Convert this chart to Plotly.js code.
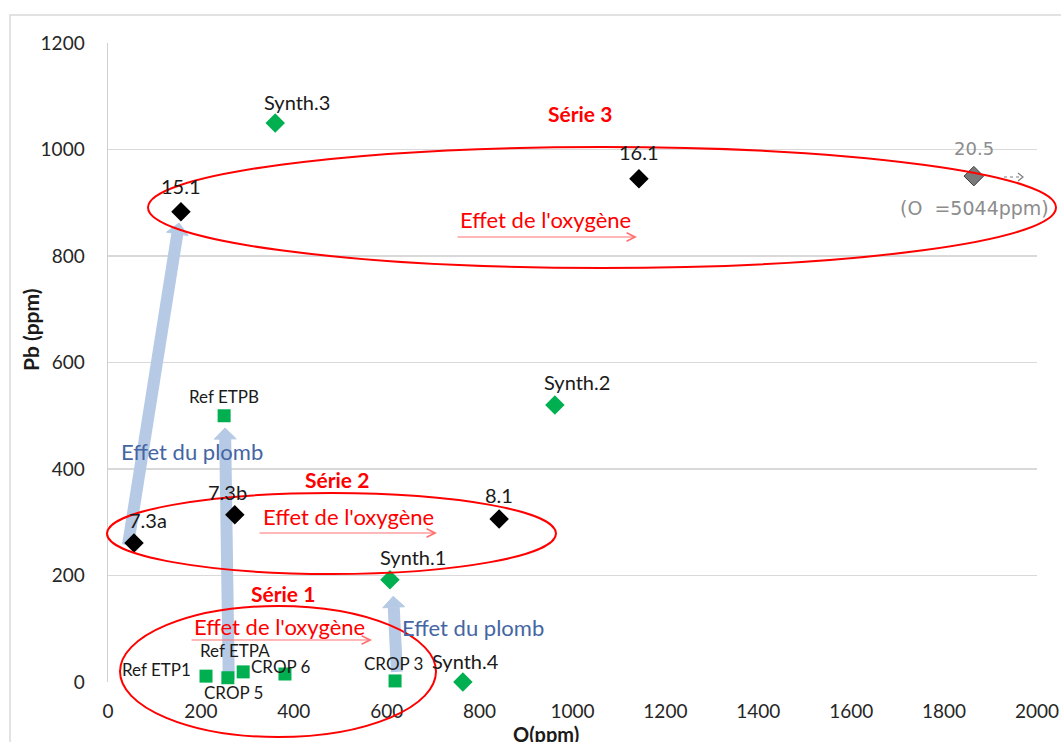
<!DOCTYPE html>
<html>
<head>
<meta charset="utf-8">
<script src="https://cdn.plot.ly/plotly-3.0.1.min.js"></script>
<style>html,body{margin:0;padding:0;background:#fff;}#chart{width:1061px;height:742px;}</style>
</head>
<body>
<div id="chart"></div>
<script>
// ---- data ----
const blackNames = ['7.3a', '7.3b', '8.1', '15.1', '16.1'];
const blackO = [56, 273, 842, 157, 1143];
const blackPb = [261, 314, 306, 883, 945];

const greyNames = ['20.5'];
const greyO = [1864];
const greyPb = [950];

const synthNames = ['Synth.1', 'Synth.2', 'Synth.3', 'Synth.4'];
const synthO = [607, 962, 360, 764];
const synthPb = [192, 520, 1050, 0];

const refNames = ['Ref ETPB', 'Ref ETP1', 'CROP 5', 'Ref ETPA', 'CROP 6', 'CROP 3'];
const refO = [250, 211, 258, 291, 381, 618];
const refPb = [500, 11, 8, 19, 15, 2];

// "Effet du plomb" arrows (tail -> head) in data units
const leadFromO = [43, 260, 622];
const leadFromPb = [257, 4, 19];
const leadToO = [153, 252, 614];
const leadToPb = [862, 477, 161];

const xTicks = [0, 200, 400, 600, 800, 1000, 1200, 1400, 1600, 1800, 2000];
const yTicks = [0, 200, 400, 600, 800, 1000, 1200];

// ---- label offsets (pixels) ----
const blackOff = [[14, -23], [-7, -23], [0, -24], [0, -26], [0, -27]];
const greyOff = [[0, -28]];
const synthOff = [[23, -23], [22, -23], [22, -21], [3, -21]];
const refOff = [[0, -19], [-50, -7], [6, 15], [-8, -21], [-4, -8], [-2, -17]];

// ---- geometry helpers (plot area in pixels) ----
const L = 108, R = 1037, T = 43, B = 682;
const px = v => (v - L) / (R - L);
const py = v => (B - v) / (B - T);
const kx = (R - L) / 2000, ky = (B - T) / 1200;

const FONT = 'Lato, "Open Sans", sans-serif';
const GREEN = '#00B050';
const RED = '#FF0000';
const BLUE_TXT = '#4466A3';
const ARROW_BLUE = '#B6CAE5';

const traces = [
  {x: refO, y: refPb, type: 'scatter', mode: 'markers', cliponaxis: false,
   marker: {symbol: 'square', size: 13, color: GREEN}, hoverinfo: 'skip'},
  {x: synthO, y: synthPb, type: 'scatter', mode: 'markers', cliponaxis: false,
   marker: {symbol: 'diamond', size: 15, color: GREEN}, hoverinfo: 'skip'},
  {x: blackO, y: blackPb, type: 'scatter', mode: 'markers', cliponaxis: false,
   marker: {symbol: 'diamond', size: 15, color: '#000000'}, hoverinfo: 'skip'},
  {x: greyO, y: greyPb, type: 'scatter', mode: 'markers', cliponaxis: false,
   marker: {symbol: 'diamond', size: 15, color: '#7A7A7A', line: {color: '#3A3A3A', width: 1}}, hoverinfo: 'skip'}
];

const annotations = [];
function addLabels(names, xs, ys, offs, size, color, family) {
  names.forEach((n, i) => {
    annotations.push({x: xs[i], y: ys[i], xref: 'x', yref: 'y', text: n, showarrow: false,
      xshift: offs[i][0], yshift: -offs[i][1], font: {family: family || FONT, size: size, color: color}});
  });
}
addLabels(blackNames, blackO, blackPb, blackOff, 20, '#1A1A1A');
addLabels(greyNames, greyO, greyPb, greyOff, 18, '#8C8C8C', '"DejaVu Sans", sans-serif');
addLabels(synthNames, synthO, synthPb, synthOff, 20, '#1A1A1A');
addLabels(refNames, refO, refPb, refOff, 17, '#1A1A1A');

// text annotations in pixel-derived paper positions
function txt(t, x, y, size, color, bold, extra) {
  annotations.push(Object.assign({x: px(x), y: py(y), xref: 'paper', yref: 'paper', text: bold ? '<b>' + t + '</b>' : t,
    showarrow: false, xanchor: 'center', yanchor: 'middle', font: {family: FONT, size: size, color: color}}, extra || {}));
}
txt('Série 3', 580, 113, 21, RED, true);
txt('Série 2', 337, 479, 21, RED, true);
txt('Série 1', 283, 593, 21, RED, true);
txt("Effet de l'oxygène", 545, 219, 22, RED, false);
txt("Effet de l'oxygène", 348, 516, 22, RED, false);
txt("Effet de l'oxygène", 279, 626, 22, RED, false);
txt('Effet du plomb', 192, 451, 22, BLUE_TXT, false);
txt('Effet du plomb', 473, 627, 22, BLUE_TXT, false);
txt('(O  =5044ppm)', 974, 208, 19, '#8C8C8C', false, {font: {family: '"DejaVu Sans", sans-serif', size: 19, color: '#8C8C8C'}});
txt('Pb (ppm)', 30, 330, 21, '#1A1A1A', true, {textangle: -90});
txt('O(ppm)', 546, 734, 20, '#1A1A1A', true);

// oxygen arrows (thin red)
[[637, 456, 237], [437, 258, 533], [372, 190, 640]].forEach(a => {
  annotations.push({x: px(a[0]), y: py(a[2]), xref: 'paper', yref: 'paper', ax: a[1] - a[0], ay: 0,
    text: '', showarrow: true, arrowhead: 5, arrowsize: 1.4, arrowwidth: 1.2, arrowcolor: '#FF7070'});
});

const shapes = [
  // outer frame
  {type: 'rect', xref: 'paper', yref: 'paper', x0: px(10), x1: px(1080), y0: py(760), y1: py(15),
   line: {color: '#D9D9D9', width: 1.5}},
  // ellipses
  {type: 'circle', xref: 'paper', yref: 'paper', x0: px(148), x1: px(1056), y0: py(268), y1: py(147),
   line: {color: RED, width: 2}},
  {type: 'circle', xref: 'paper', yref: 'paper', x0: px(107), x1: px(556), y0: py(574), y1: py(493),
   line: {color: RED, width: 2}},
  {type: 'circle', xref: 'paper', yref: 'paper', x0: px(120), x1: px(436), y0: py(737), y1: py(606),
   line: {color: RED, width: 2}},
  // dotted arrow next to 20.5
  {type: 'line', xref: 'paper', yref: 'paper', x0: px(1004), x1: px(1022), y0: py(177), y1: py(177),
   line: {color: '#7F7F7F', width: 1.2, dash: 'dot'}},
  {type: 'path', xref: 'paper', yref: 'paper',
   path: 'M' + px(1018) + ',' + py(173) + ' L' + px(1023) + ',' + py(177) + ' L' + px(1018) + ',' + py(181),
   line: {color: '#7F7F7F', width: 1.2}}
];

// lead arrows as shapes between gridlines and traces
const HEAD_LEN = 11, HEAD_HALF = 11, SHAFT = 12;
leadFromO.forEach((_, i) => {
  const x0 = leadFromO[i], y0 = leadFromPb[i], x1 = leadToO[i], y1 = leadToPb[i];
  const dxp = (x1 - x0) * kx, dyp = (y1 - y0) * ky;
  const len = Math.hypot(dxp, dyp);
  const ux = dxp / len, uy = dyp / len;
  const bx = x1 - ux * HEAD_LEN / kx, by = y1 - uy * HEAD_LEN / ky;
  const cx1 = bx + (-uy * HEAD_HALF) / kx, cy1 = by + (ux * HEAD_HALF) / ky;
  const cx2 = bx - (-uy * HEAD_HALF) / kx, cy2 = by - (ux * HEAD_HALF) / ky;
  shapes.push({type: 'line', xref: 'x', yref: 'y', layer: 'between', x0: x0, y0: y0, x1: bx, y1: by,
    line: {color: ARROW_BLUE, width: SHAFT}});
  shapes.push({type: 'path', xref: 'x', yref: 'y', layer: 'between',
    path: 'M' + x1 + ',' + y1 + ' L' + cx1 + ',' + cy1 + ' L' + cx2 + ',' + cy2 + ' Z',
    fillcolor: ARROW_BLUE, line: {color: ARROW_BLUE, width: 1}});
});

const layout = {
  width: 1061, height: 742,
  margin: {l: L, r: 1061 - R, t: T, b: 742 - B, pad: 0},
  paper_bgcolor: '#ffffff', plot_bgcolor: '#ffffff',
  showlegend: false,
  font: {family: FONT, size: 19, color: '#262626'},
  xaxis: {range: [0, 2000], tickvals: xTicks, ticktext: xTicks.map(String), showgrid: false, zeroline: false,
    showline: false, ticks: '', ticklabelstandoff: 16, tickfont: {family: FONT, size: 19, color: '#262626'}, fixedrange: true},
  yaxis: {range: [0, 1200], tickvals: yTicks, ticktext: yTicks.map(String), showgrid: true, gridcolor: '#D9D9D9', gridwidth: 1.5,
    zeroline: false, showline: true, linecolor: '#D0D0D0', linewidth: 1.5, ticks: '', ticklabelstandoff: 18,
    tickfont: {family: FONT, size: 19, color: '#262626'}, fixedrange: true},
  shapes: shapes,
  annotations: annotations
};

Plotly.newPlot('chart', traces, layout, {displayModeBar: false, staticPlot: true});
</script>
</body>
</html>
